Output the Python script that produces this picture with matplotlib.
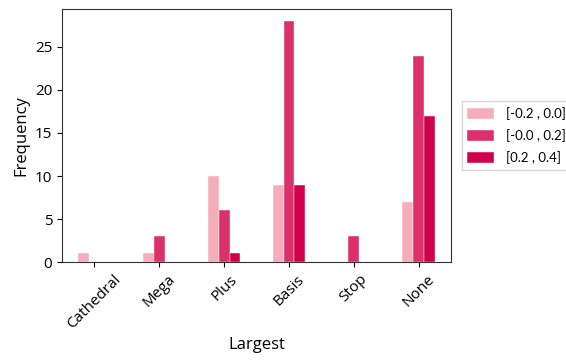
import matplotlib
matplotlib.use("Agg")
import matplotlib.pyplot as plt
import numpy as np

plt.rcParams['font.family'] = ['Open Sans', 'DejaVu Sans']

categories = ["Cathedral", "Mega", "Plus", "Basis", "Stop", "None"]
series_labels = ["[-0.2 , 0.0]", "[-0.0 , 0.2]", "[0.2 , 0.4]"]
values_low = [1, 1, 10, 9, 0, 7]
values_mid = [0, 3, 6, 28, 3, 24]
values_high = [0, 0, 1, 9, 0, 17]
colors = ["#f4adb9", "#db3069", "#d1004d"]

series = [values_low, values_mid, values_high]

fig = plt.figure(figsize=(5.66, 3.61), dpi=100)
ax = fig.add_axes([0.1095, 0.274, 0.6875, 0.701])

x = np.arange(len(categories))
total_width = 0.5
w = total_width / len(series)
for i, (vals, lab, col) in enumerate(zip(series, series_labels, colors)):
    offset = (i - (len(series) - 1) / 2) * w
    ax.bar(x + offset, vals, width=w, color=col, label=lab,
           edgecolor="white", linewidth=0.3)

ax.set_xlim(-0.5, len(categories) - 0.5)
ax.set_xticks(x)
ax.set_xticklabels(categories, rotation=45, fontsize=11)
ax.tick_params(axis='y', labelsize=11)
ax.set_yticks([0, 5, 10, 15, 20, 25])
ax.set_xlabel("Largest", fontsize=12)
ax.set_ylabel("Frequency", fontsize=12)
for s in ax.spines.values():
    s.set_color("#333333")

ax.legend(loc="center left", bbox_to_anchor=(1.02, 0.5),
          prop={'family': ['Lato', 'DejaVu Sans'], 'size': 9.5},
          frameon=True, fancybox=False, edgecolor="#cccccc",
          handlelength=2.0, handleheight=0.9, borderpad=0.45,
          handletextpad=0.9, labelspacing=0.7, borderaxespad=0.2)

fig.savefig("out.png", dpi=100)
